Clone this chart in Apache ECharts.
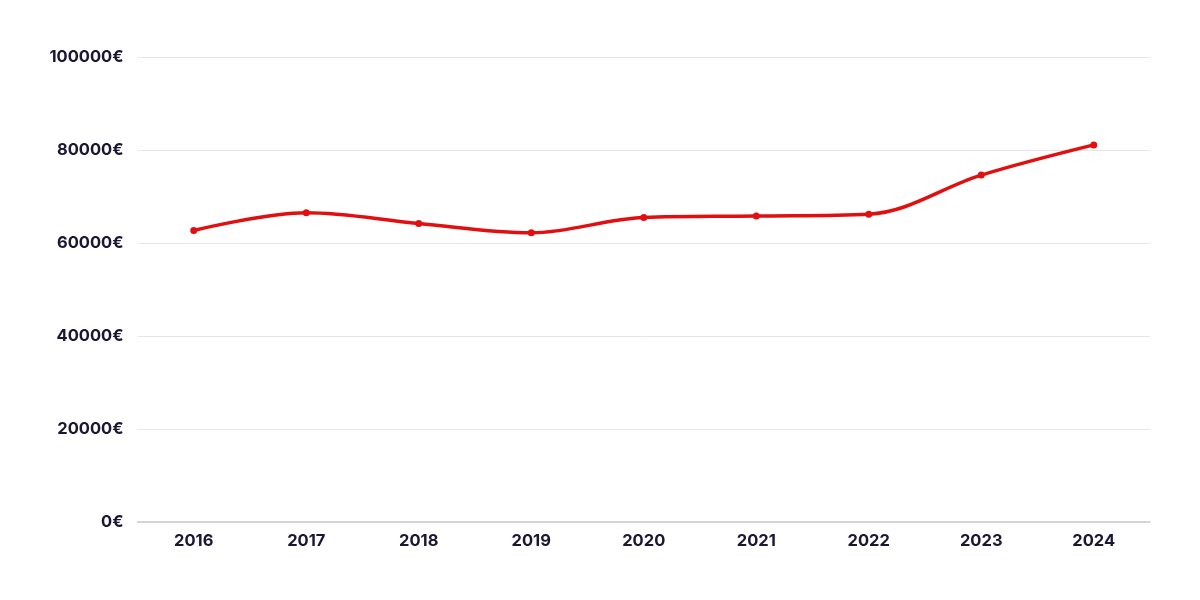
<!DOCTYPE html>
<html>
<head>
<meta charset="utf-8">
<script src="https://cdn.jsdelivr.net/npm/echarts@6/dist/echarts.min.js"></script>
<style>
html,body{margin:0;padding:0;background:#fff;}
#chart{width:1200px;height:600px;}
</style>
</head>
<body>
<div id="chart"></div>
<script>
const years = ["2016","2017","2018","2019","2020","2021","2022","2023","2024"];
const salaries = [62700, 66500, 64200, 62200, 65500, 65800, 66200, 74600, 81100];
const yTicks = [0, 20000, 40000, 60000, 80000, 100000];

const chart = echarts.init(document.getElementById('chart'));
chart.setOption({
  backgroundColor: '#ffffff',
  grid: { left: 137.5, right: 50, top: 57, bottom: 78, containLabel: false },
  xAxis: {
    type: 'category',
    data: years,
    boundaryGap: true,
    axisLine: { lineStyle: { color: '#cccccc', width: 1.5 } },
    axisTick: { show: false },
    axisLabel: { color: '#1a1633', fontFamily: 'Inter', fontWeight: 'bold', fontSize: 16.5, margin: 11 }
  },
  yAxis: {
    type: 'value',
    min: yTicks[0],
    max: yTicks[yTicks.length - 1],
    interval: 20000,
    axisLine: { show: false },
    axisTick: { show: false },
    splitLine: { lineStyle: { color: '#e6e6e6', width: 1 } },
    axisLabel: { color: '#1a1633', fontFamily: 'Inter', fontWeight: 'bold', fontSize: 16.5, margin: 14,
      formatter: v => v + '€' }
  },
  series: [{
    type: 'line',
    data: salaries,
    smooth: 0.35,
    symbol: 'circle',
    symbolSize: 7,
    lineStyle: { color: '#e10f0f', width: 3.5 },
    itemStyle: { color: '#e10f0f' }
  }]
});
</script>
</body>
</html>
